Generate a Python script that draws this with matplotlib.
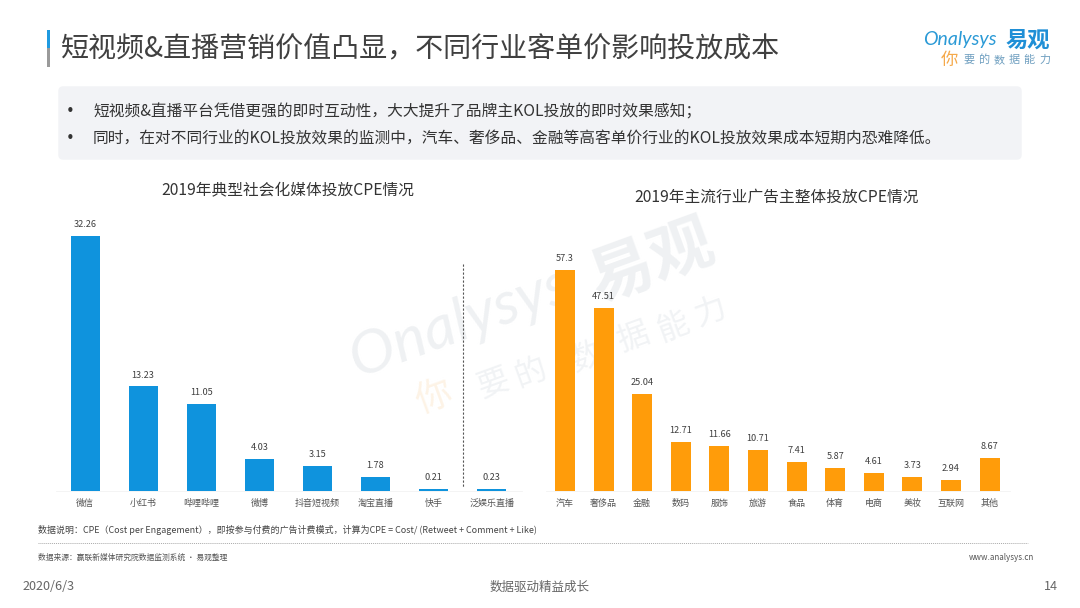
import matplotlib
matplotlib.use("Agg")
import matplotlib.pyplot as plt
from matplotlib.patches import FancyBboxPatch, Rectangle

plt.rcParams['font.family'] = ['Noto Sans CJK SC', 'DejaVu Sans']

social_labels = ["微信", "小红书", "哔哩哔哩", "微博", "抖音短视频", "淘宝直播", "快手", "泛娱乐直播"]
social_values = [32.26, 13.23, 11.05, 4.03, 3.15, 1.78, 0.21, 0.23]
social_texts = ["32.26", "13.23", "11.05", "4.03", "3.15", "1.78", "0.21", "0.23"]
industry_labels = ["汽车", "奢侈品", "金融", "数码", "服饰", "旅游", "食品", "体育", "电商", "美妆", "互联网", "其他"]
industry_values = [57.3, 47.51, 25.04, 12.71, 11.66, 10.71, 7.41, 5.87, 4.61, 3.73, 2.94, 8.67]
industry_texts = ["57.3", "47.51", "25.04", "12.71", "11.66", "10.71", "7.41", "5.87", "4.61", "3.73", "2.94", "8.67"]

title = "短视频&直播营销价值凸显，不同行业客单价影响投放成本"
bullets = ["短视频&直播平台凭借更强的即时互动性，大大提升了品牌主KOL投放的即时效果感知；",
           "同时，在对不同行业的KOL投放效果的监测中，汽车、奢侈品、金融等高客单价行业的KOL投放效果成本短期内恐难降低。"]
left_title = "2019年典型社会化媒体投放CPE情况"
right_title = "2019年主流行业广告主整体投放CPE情况"
note = "数据说明：CPE（Cost per Engagement），即按参与付费的广告计费模式，计算为CPE = Cost/ (Retweet + Comment + Like)"
source = "数据来源：赢联新媒体研究院数据监测系统 · 易观整理"
slogan = "要的数据能力"

W, H = 1080, 608
fig = plt.figure(figsize=(W / 100, H / 100), dpi=100, facecolor="white")

# page layer in pixel coordinates
bg = fig.add_axes([0, 0, 1, 1])
bg.set_xlim(0, W); bg.set_ylim(H, 0); bg.axis("off")

# watermark
wm = dict(rotation=20, ha="center", va="center", zorder=0)
bg.text(460, 322, "Onalysys", fontsize=44, color="#eff1f3", style="italic", family=["Lato"], **wm)
bg.text(652, 262, "易观", fontsize=46, color="#eff1f3", fontweight="bold", **wm)
wm_xy = [(493, 383), (530, 373), (587, 357), (633, 337), (673, 327), (710, 313)]
for ch, (x, y) in zip(slogan, wm_xy):
    bg.text(x, y, ch, fontsize=23, color="#f1f3f5", **wm)
bg.text(434, 398, "你", fontsize=26, color="#fdf3e6", **wm)

# title
bg.add_patch(Rectangle((47, 30), 3, 18, color="#1f9ae0", lw=0))
bg.add_patch(Rectangle((47, 48), 3, 19, color="#9a9a9a", lw=0))
bg.text(61, 49, title, fontsize=20.2, color="#404040", va="center", ha="left")

# logo
bg.text(923, 40, "Onalysys", fontsize=14, color="#2b9ad6", style="italic", family=["Lato"], va="center", ha="left")
bg.text(1006, 40, "易观", fontsize=16, color="#1f8fd6", fontweight="bold", va="center", ha="left")
bg.text(941, 60, "你", fontsize=12.5, color="#f5a94a", va="center", ha="left")
for i, ch in enumerate(slogan):
    bg.text(963 + 15.2 * i, 60, ch, fontsize=8, color="#6f9fc0", va="center", ha="left")

# bullet panel
bg.add_patch(FancyBboxPatch((59, 87), 962, 72, boxstyle="round,pad=0,rounding_size=4",
                            fc="#f2f3f6", ec="#f2f3f6", lw=1))
for y, line in zip([112, 138.5], bullets):
    bg.text(66, y, "•", fontsize=10.5, color="#333333", va="center", ha="left", family=["DejaVu Sans"])
    bg.text(93, y, line, fontsize=11.3, color="#333333", va="center", ha="left")

bg.text(288, 190, left_title, fontsize=11.3, color="#333333", va="center", ha="center")
bg.text(777, 197, right_title, fontsize=11.3, color="#333333", va="center", ha="center")

# separator
bg.plot([463, 463], [264, 487], color="#555555", lw=0.8, ls=(0, (2, 1.6)))


def bars(x0, x1, first, step, width, labels, values, texts, color, px_per_unit):
    top, base = 215, 491
    ax = fig.add_axes([x0 / W, 1 - base / H, (x1 - x0) / W, (base - top) / H])
    ax.patch.set_alpha(0)
    ax.set_xlim((x0 - first) / step, (x1 - first) / step)
    ax.set_ylim(0, (base - top) / px_per_unit)
    pos = list(range(len(values)))
    ax.bar(pos, values, width=width / step, color=color, linewidth=0)
    for p, v, t in zip(pos, values, texts):
        ax.annotate(t, (p, v), xytext=(0, 5), textcoords="offset points",
                    ha="center", va="bottom", fontsize=6.6, color="#404040")
    ax.set_xticks(pos)
    ax.set_xticklabels(labels, fontsize=6.5, color="#555555", va="baseline")
    ax.tick_params(axis="x", length=0, pad=10.5)
    ax.set_yticks([])
    for s in ("top", "left", "right"):
        ax.spines[s].set_visible(False)
    ax.spines["bottom"].set_color("#f3f3f3")
    ax.spines["bottom"].set_linewidth(0.6)


bars(56, 522, 85, 58.1, 29, social_labels, social_values, social_texts, "#0f93dd", 7.9)
bars(546, 1010, 565, 38.6, 20, industry_labels, industry_values, industry_texts, "#ff9c0a", 3.857)

# footer
bg.text(38, 530, note, fontsize=6.45, color="#444444", va="center", ha="left")
bg.plot([38, 1028], [543, 543], color="#aaaaaa", lw=0.7, ls=(0, (1, 1)))
bg.text(38, 558, source, fontsize=5.6, color="#555555", va="center", ha="left")
bg.text(1034, 558, "www.analysys.cn", fontsize=5.8, color="#555555", va="center", ha="right")
bg.text(23, 586, "2020/6/3", fontsize=9.1, color="#666666", va="center", ha="left")
bg.text(540, 587, "数据驱动精益成长", fontsize=9, color="#666666", va="center", ha="center")
bg.text(1058, 586, "14", fontsize=9.1, color="#666666", va="center", ha="right")

fig.savefig("out.png", dpi=100, facecolor="white")
